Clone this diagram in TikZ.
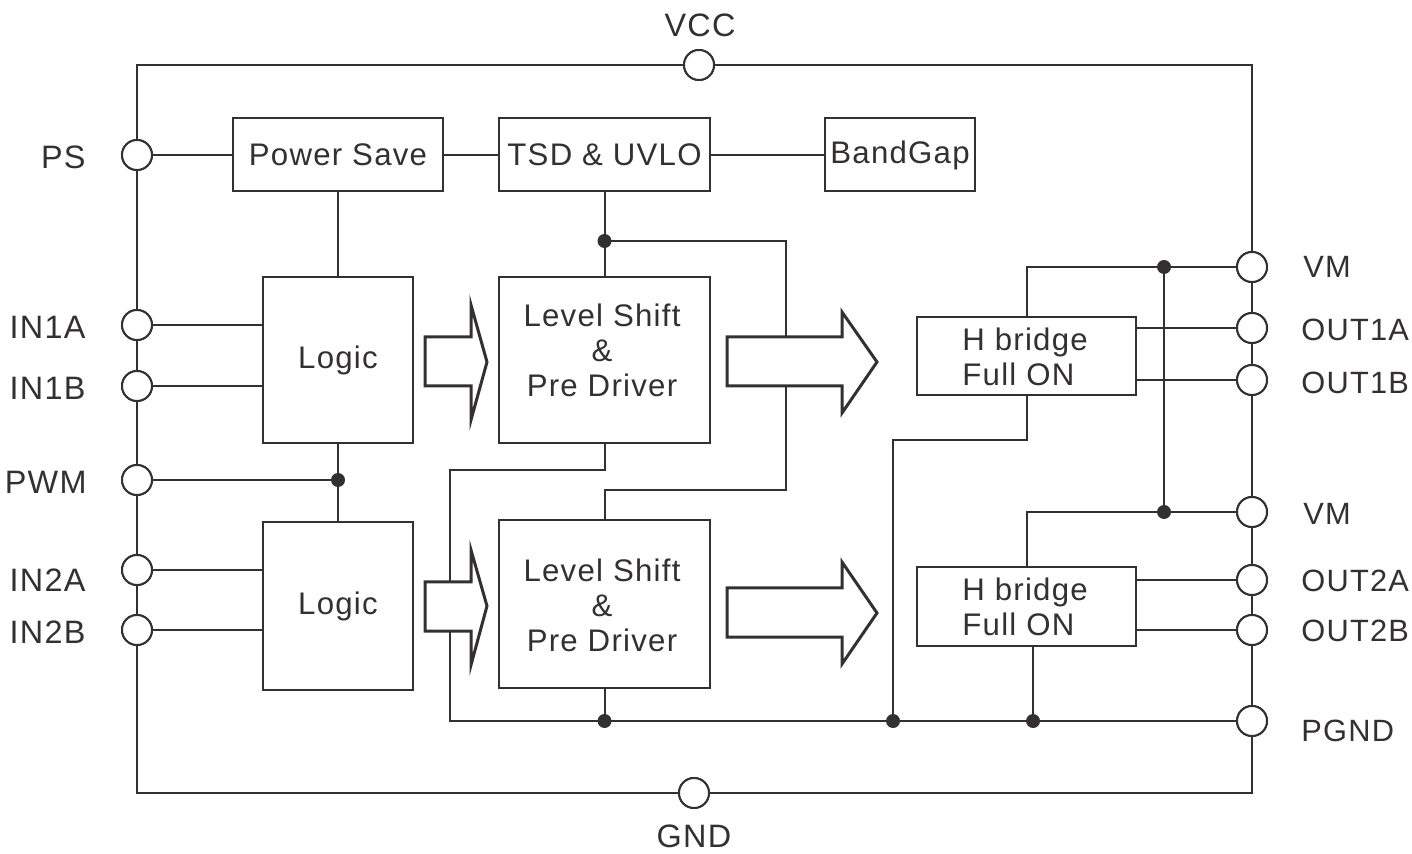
\documentclass[tikz,border=0pt]{standalone}
\usepackage{fontspec}
\setmainfont{Liberation Sans}[LetterSpace=4]
\definecolor{ink}{RGB}{52,48,48}
\begin{document}
\begin{tikzpicture}[x=0.5pt,y=-0.5pt,
  wire/.style={draw=ink,line width=1pt},
  blk/.style={draw=ink,line width=1pt,fill=white,rectangle,inner sep=0pt,text=ink,
     font=\fontsize{15.6}{17.5}\selectfont,align=center},
  pin/.style={draw=ink,line width=1pt,fill=white,circle,minimum size=15pt,inner sep=0pt},
  jdot/.style={fill=ink,circle,minimum size=7pt,inner sep=0pt},
  lbl/.style={text=ink,font=\fontsize{15.6}{17.5}\selectfont,inner sep=0pt},
  pinlbl/.style={text=ink,font=\fontsize{16.2}{18}\selectfont,inner sep=0pt},
  rpinlbl/.style={text=ink,font=\fontsize{15.4}{18}\selectfont,inner sep=0pt,anchor=west},
  barrow/.style={draw=ink,line width=1.5pt,fill=white,line join=miter}]
\useasboundingbox (0,0) rectangle (1412,854);
% outer frame
\coordinate (fTL) at (137,65);
\coordinate (fBR) at (1252,793);
\draw[wire] (fTL) rectangle (fBR);
% named coordinates for wire bends
\coordinate (d1) at (604.5,241);
\coordinate (k1) at (786,241);
\coordinate (k2) at (786,490);
\coordinate (k2b) at (604.5,490);
\coordinate (k3) at (450,470);
\coordinate (k4) at (450,721);
\coordinate (dA) at (604.5,721);
\coordinate (dB) at (893,721);
\coordinate (dC) at (1033,721);
\coordinate (k5) at (893,440);
\coordinate (dD) at (1164,267);
\coordinate (dE) at (1164,512);
\coordinate (dP) at (338,480);
% pins
\node[pin] (pVCC) at (699,65) {};
\node[pin] (pGND) at (694,793) {};
\node[pin] (pPS) at (137,155) {};
\node[pin] (pIN1A) at (137,325) {};
\node[pin] (pIN1B) at (137,386) {};
\node[pin] (pPWM) at (137,480) {};
\node[pin] (pIN2A) at (137,570) {};
\node[pin] (pIN2B) at (137,630) {};
\node[pin] (pVM1) at (1252,267) {};
\node[pin] (pOUT1A) at (1252,328) {};
\node[pin] (pOUT1B) at (1252,380) {};
\node[pin] (pVM2) at (1252,512) {};
\node[pin] (pOUT2A) at (1252,580) {};
\node[pin] (pOUT2B) at (1252,630) {};
\node[pin] (pPGND) at (1252,721) {};
% blocks (placed first as coordinates for wires)
\path node[blk,minimum width=105pt,minimum height=36.5pt] (psbox) at (338,155) {Power Save}
      node[blk,minimum width=105.5pt,minimum height=36.5pt] (tsd) at (604.5,155) {TSD \& UVLO}
      node[blk,minimum width=75pt,minimum height=36.5pt] (bg) at (900,155) {BandGap}
      node[blk,minimum width=75pt,minimum height=83pt] (logic1) at (338,360) {Logic}
      node[blk,minimum width=75pt,minimum height=84pt] (logic2) at (338,606) {Logic}
      node[blk,minimum width=105.5pt,minimum height=83pt] (ls1) at (604.5,360) {}
      node[blk,minimum width=105.5pt,minimum height=84pt] (ls2) at (604.5,604) {}
      node[blk,minimum width=109.5pt,minimum height=39pt] (hb1) at (1026.5,356) {}
      node[blk,minimum width=109.5pt,minimum height=39.5pt] (hb2) at (1026.5,606.5) {};
% wires
\draw[wire] (pPS) -- (psbox);
\draw[wire] (psbox) -- (tsd);
\draw[wire] (tsd) -- (bg);
\draw[wire] (psbox.south) -- (logic1.north);
\draw[wire] (tsd.south) -- (d1);
\draw[wire] (d1) -- (ls1.north);
\draw[wire] (d1) -- (k1) -- (k2) -- (k2b) -- (ls2.north);
\draw[wire] (ls1.south) |- (k3) -- (k4) -- (pPGND);
\draw[wire] (ls2.south) -- (dA);
\draw[wire] (hb1.south) |- (k5) -- (dB);
\draw[wire] (dC |- hb2.south) -- (dC);
\draw[wire] (hb1.north) |- (pVM1);
\draw[wire] (dD) -- (dE);
\draw[wire] (hb2.north) |- (pVM2);
\draw[wire] (hb1.east |- pOUT1A) -- (pOUT1A);
\draw[wire] (hb1.east |- pOUT1B) -- (pOUT1B);
\draw[wire] (hb2.east |- pOUT2A) -- (pOUT2A);
\draw[wire] (hb2.east |- pOUT2B) -- (pOUT2B);
\draw[wire] (pIN1A) -- (logic1.west |- pIN1A);
\draw[wire] (pIN1B) -- (logic1.west |- pIN1B);
\draw[wire] (pIN2A) -- (logic2.west |- pIN2A);
\draw[wire] (pIN2B) -- (logic2.west |- pIN2B);
\draw[wire] (pPWM) -- (dP);
\draw[wire] (logic1.south) -- (logic2.north);
% redraw blocks on top of wires
\node[blk,minimum width=105pt,minimum height=36.5pt] at (psbox) {Power Save};
\node[blk,minimum width=105.5pt,minimum height=36.5pt] at (tsd) {TSD \& UVLO};
\node[blk,minimum width=75pt,minimum height=36.5pt] at (bg) {BandGap};
\node[blk,minimum width=75pt,minimum height=83pt] at (logic1) {Logic};
\node[blk,minimum width=75pt,minimum height=84pt] at (logic2) {Logic};
\node[blk,minimum width=105.5pt,minimum height=83pt] at (ls1) {};
\node[blk,minimum width=105.5pt,minimum height=84pt] at (ls2) {};
\node[blk,minimum width=109.5pt,minimum height=39pt] at (hb1) {};
\node[blk,minimum width=109.5pt,minimum height=39.5pt] at (hb2) {};
\node[lbl,align=center] (ls1t) at (602,350) {Level Shift\\\&\\Pre Driver};
\node[lbl,align=center] (ls2t) at (602,605) {Level Shift\\\&\\Pre Driver};
\node[lbl,align=left,anchor=west] (hb1t) at (962,357) {H bridge\\Full ON};
\node[lbl,align=left,anchor=west] (hb2t) at (962,607) {H bridge\\Full ON};
% block arrows
\draw[barrow] (425,337) -- (471,337) -- (471,305) -- (487,362) -- (471,420) -- (471,386) -- (425,386) -- cycle;
\draw[barrow] (727,337) -- (842,337) -- (842,312) -- (877,362) -- (842,413) -- (842,386) -- (727,386) -- cycle;
\draw[barrow] (425,582) -- (471,582) -- (471,550) -- (487,606) -- (471,665) -- (471,631) -- (425,631) -- cycle;
\draw[barrow] (727,588) -- (842,588) -- (842,562) -- (877,613) -- (842,664) -- (842,637) -- (727,637) -- cycle;
% pins on top
\foreach \p in {pVCC,pGND,pPS,pIN1A,pIN1B,pPWM,pIN2A,pIN2B,pVM1,pOUT1A,pOUT1B,pVM2,pOUT2A,pOUT2B,pPGND}
  \node[pin] at (\p) {};
% junction dots
\foreach \d in {d1,dA,dB,dC,dD,dE,dP}
  \node[jdot] at (\d) {};
% labels
\node[pinlbl] (tVCC) at (700,25) {VCC};
\node[pinlbl] (tGND) at (694,836) {GND};
\node[pinlbl,anchor=east] (tPS) at (86,157) {PS};
\node[pinlbl,anchor=east] (tIN1A) at (86,327) {IN1A};
\node[pinlbl,anchor=east] (tIN1B) at (86,388) {IN1B};
\node[pinlbl,anchor=east] (tPWM) at (87,482) {PWM};
\node[pinlbl,anchor=east] (tIN2A) at (86,580) {IN2A};
\node[pinlbl,anchor=east] (tIN2B) at (86,632) {IN2B};
\node[rpinlbl] (tVM1) at (1303,267) {VM};
\node[rpinlbl] (tOUT1A) at (1301,330) {OUT1A};
\node[rpinlbl] (tOUT1B) at (1301,383) {OUT1B};
\node[rpinlbl] (tVM2) at (1303,514) {VM};
\node[rpinlbl] (tOUT2A) at (1301,581) {OUT2A};
\node[rpinlbl] (tOUT2B) at (1301,631) {OUT2B};
\node[rpinlbl] (tPGND) at (1301,731) {PGND};
\end{tikzpicture}
\end{document}
